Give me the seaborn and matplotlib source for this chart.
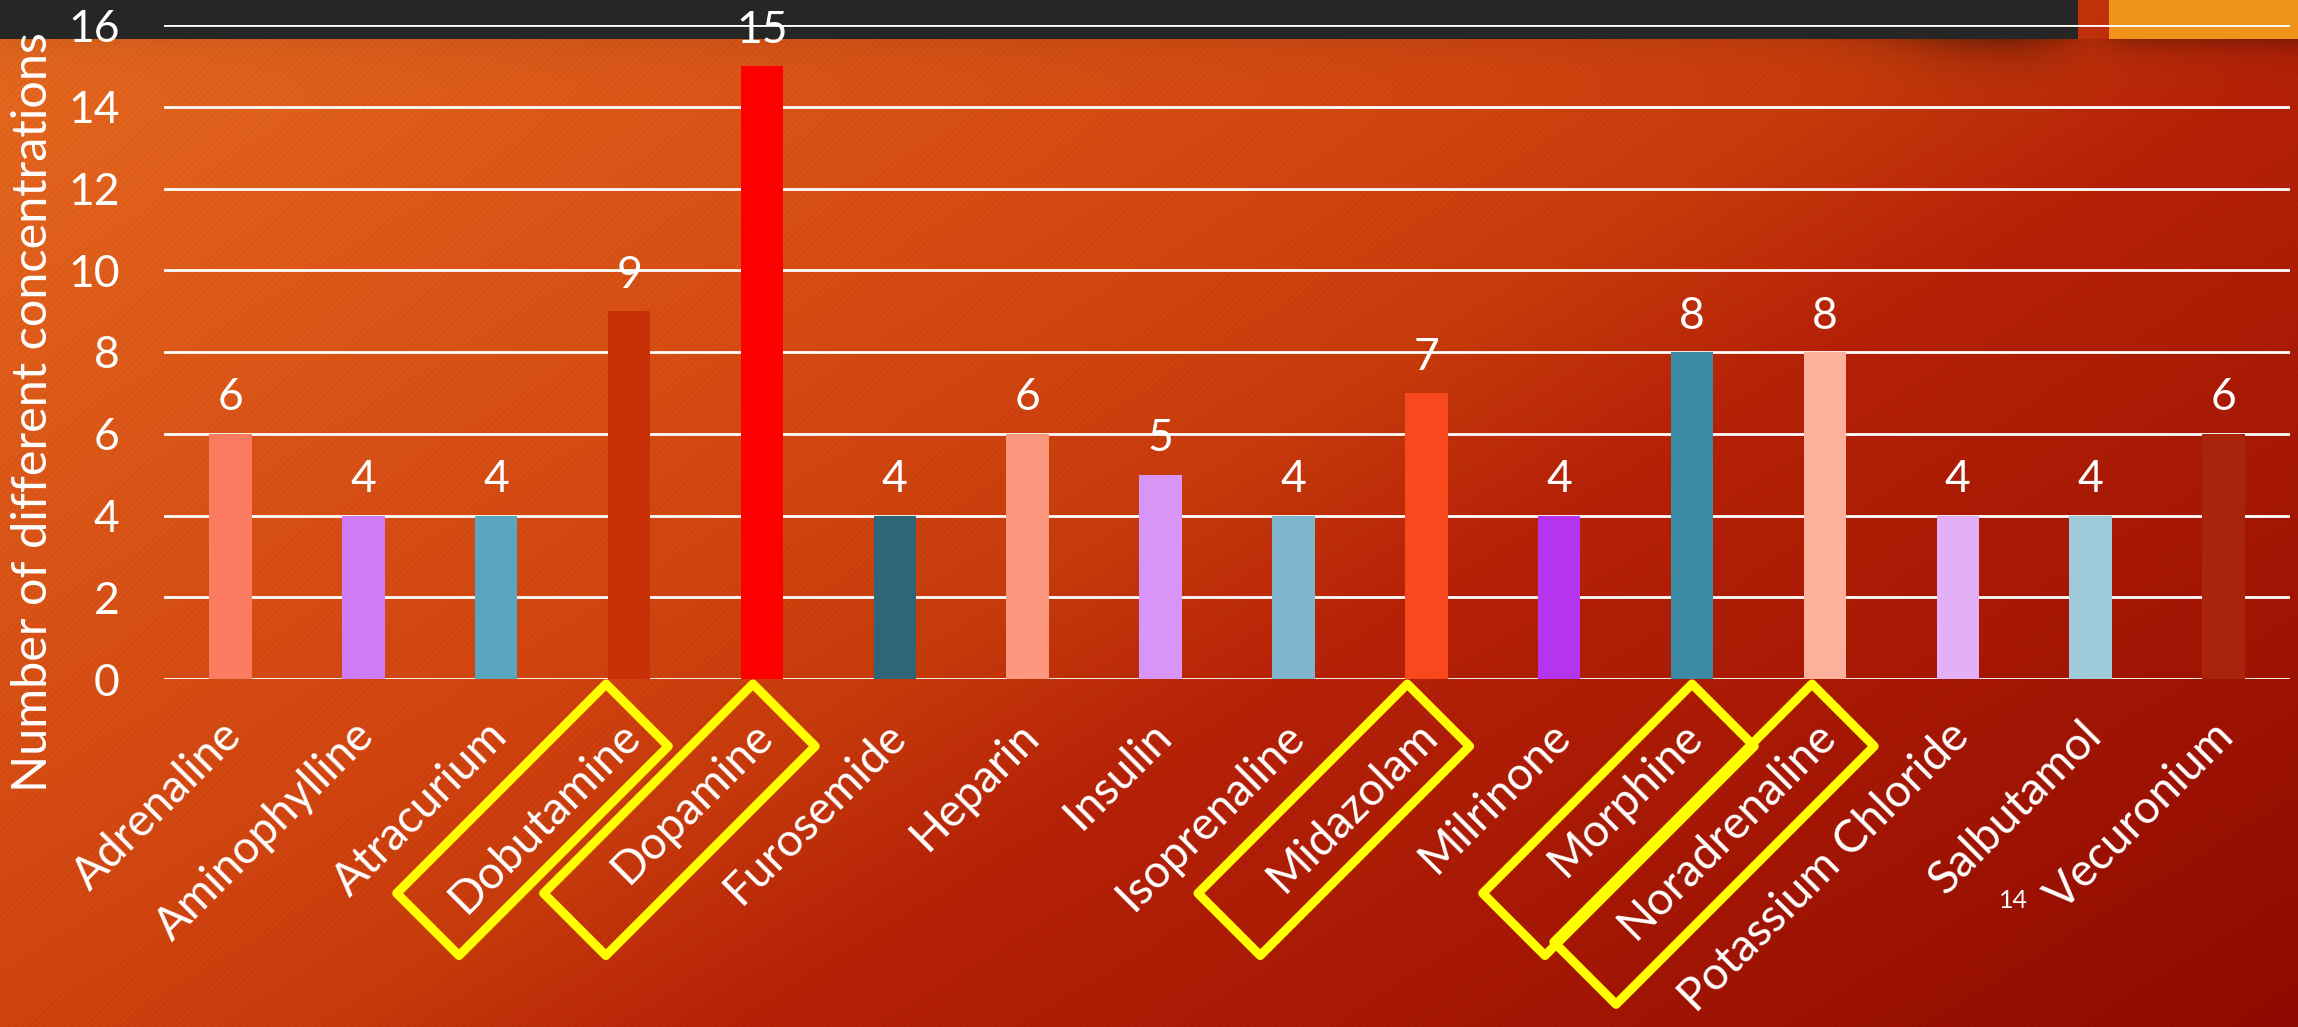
import numpy as np
import pandas as pd
import matplotlib
matplotlib.use("Agg")
import matplotlib.pyplot as plt
import seaborn as sns
from matplotlib.patches import Rectangle, Polygon
from matplotlib.transforms import ScaledTranslation

# ---- data -------------------------------------------------------------
drugs = ["Adrenaline", "Aminophylline", "Atracurium", "Dobutamine", "Dopamine",
         "Furosemide", "Heparin", "Insulin", "Isoprenaline", "Midazolam",
         "Milrinone", "Morphine", "Noradrenaline", "Potassium Chloride",
         "Salbutamol", "Vecuronium"]
counts = [6, 4, 4, 9, 15, 4, 6, 5, 4, 7, 4, 8, 8, 4, 4, 6]
bar_colors = ["#FA7B5F", "#CF7CF7", "#5AA5C0", "#C83008", "#FF0000",
              "#2E6578", "#FC987E", "#D895F7", "#7DB6CD", "#F8491E",
              "#B535EF", "#3D8AA5", "#FDB09C", "#E3B0F8", "#9FCAD9",
              "#A8240B"]
highlighted = ["Dobutamine", "Dopamine", "Midazolam", "Morphine", "Noradrenaline"]
y_ticks = [0, 2, 4, 6, 8, 10, 12, 14, 16]
y_title = "Number of different concentrations"
slide_number = "14"

# ---- canvas -----------------------------------------------------------
W_PX, H_PX, DPI = 2298, 1027, 100
sns.set_theme(style="white")
plt.rcParams["font.family"] = ["Lato", "DejaVu Sans"]

fig = plt.figure(figsize=(W_PX / DPI, H_PX / DPI), dpi=DPI)

# textured orange-to-red slide background
yy, xx = np.mgrid[0:H_PX, 0:W_PX].astype(float)
t = 0.58 * xx / W_PX + 0.42 * yy / H_PX
stops = [0.0, 0.4, 0.5, 0.6, 1.0]
r = np.interp(t, stops, [229, 208, 198, 181, 143])
g = np.interp(t, stops, [105, 69, 58, 34, 10])
b = np.interp(t, stops, [31, 16, 11, 7, 0])
bg = np.dstack([r, g, b]) / 255.0
stripes = 1 + 0.022 * np.sin(2 * np.pi * (xx + yy) / 7.0)
bg *= stripes[..., None]


def sig(z):
    return 1 / (1 + np.exp(-z))


below = np.clip(yy - 39, 0, None)
dark_prof = (0.07 + 0.30 * np.exp(-((xx - 2000) / 110) ** 2)) * sig((2078 - xx) / 18)
dark_sh = dark_prof * np.exp(-below / 20)
orange_sh = 0.26 * sig((xx - 2109) / 12) * np.exp(-below / 14)
shade = 1 - np.clip(dark_sh + orange_sh, 0, 0.7) * (yy >= 39)
bg *= shade[..., None]
bg = np.clip(bg, 0, 1)

bg_ax = fig.add_axes([0, 0, 1, 1], zorder=0)
bg_ax.imshow(bg, aspect="auto", extent=[0, W_PX, H_PX, 0], interpolation="bilinear")
bg_ax.set_xlim(0, W_PX)
bg_ax.set_ylim(H_PX, 0)
bg_ax.axis("off")
bg_ax.add_patch(Rectangle((0, 0), 2078, 39, color="#262626", lw=0))
bg_ax.add_patch(Rectangle((2109, 0), W_PX - 2109, 39, color="#F0931A", lw=0))

# ---- bar chart --------------------------------------------------------
ax_left, ax_right, ax_top, ax_bottom = 164, 2290, 25, 679
ax = fig.add_axes([ax_left / W_PX, 1 - ax_bottom / H_PX,
                   (ax_right - ax_left) / W_PX, (ax_bottom - ax_top) / H_PX], zorder=1)
ax.set_facecolor("none")

df = pd.DataFrame({"drug": drugs, "count": counts})
sns.barplot(data=df, x="drug", y="count", hue="drug",
            palette=dict(zip(drugs, bar_colors)), saturation=1,
            width=0.32, legend=False, ax=ax, linewidth=0, edgecolor="none")

ax.set_ylim(0, 16)
ax.set_xlim(-0.5, len(drugs) - 0.5)
ax.set_yticks(y_ticks)
ax.set_yticklabels([str(v) for v in y_ticks])
ax.yaxis.grid(True, color="white", lw=2.0)
ax.xaxis.grid(False)
ax.set_axisbelow(True)
for sp in ax.spines.values():
    sp.set_visible(False)
ax.set_xlabel("")
ax.set_ylabel("")

ax.tick_params(axis="y", length=0, pad=32, labelsize=32, labelcolor="white")
ax.set_xticks(range(len(drugs)))
ax.set_xticklabels(drugs, rotation=45, ha="right", va="center",
                   rotation_mode="anchor", fontsize=33, color="white")
ax.tick_params(axis="x", length=0, pad=36)
shift = ScaledTranslation(4 / DPI, 0, fig.dpi_scale_trans)
for lab in ax.get_xticklabels():
    lab.set_transform(lab.get_transform() + shift)

for cont in ax.containers:
    ax.bar_label(cont, fmt="%d", padding=11, color="white", fontsize=32)

fig.text(33 / W_PX, 1 - 412 / H_PX, y_title, rotation=90, ha="center",
         va="center", color="white", fontsize=35)

# ---- yellow call-out frames around selected labels -------------------
over = fig.add_axes([0, 0, 1, 1], zorder=2)
over.set_xlim(0, W_PX)
over.set_ylim(H_PX, 0)
over.axis("off")
over.patch.set_alpha(0)

frame_offset = {"Dobutamine": -23, "Dopamine": -9, "Midazolam": -19,
                "Morphine": 0, "Noradrenaline": -13}
frame_length = {"Dobutamine": 296, "Dopamine": 296, "Midazolam": 296,
                "Morphine": 296, "Noradrenaline": 365}
frame_width = 88
k = 1 / np.sqrt(2)
for name in highlighted:
    i = drugs.index(name)
    dx_disp, dy_disp = ax.transData.transform((i, 0))
    tx = dx_disp + frame_offset[name]
    ty = H_PX - dy_disp + 5
    L = frame_length[name]
    top = (tx, ty)
    right = (tx + frame_width * k, ty + frame_width * k)
    left = (tx - L * k, ty + L * k)
    bottom = (left[0] + frame_width * k, left[1] + frame_width * k)
    over.add_patch(Polygon([top, right, bottom, left], closed=True, fill=False,
                           edgecolor="#FFFF00", lw=6.5, joinstyle="round"))

over.text(2013, 900, slide_number, ha="center", va="center", color="white",
          fontsize=18)

fig.savefig("out.png", dpi=DPI)
